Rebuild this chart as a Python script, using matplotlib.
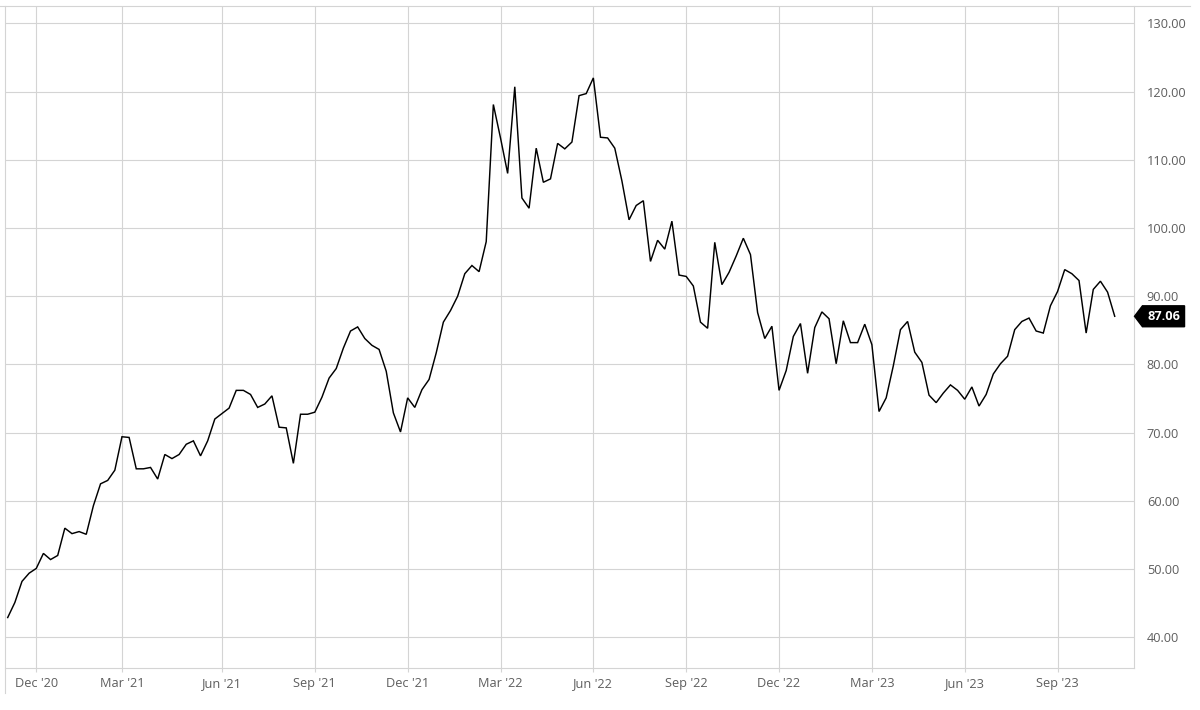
import pandas as pd
import matplotlib
matplotlib.use("Agg")
import matplotlib.pyplot as plt
from matplotlib.lines import Line2D
from matplotlib.path import Path

# weekly closes, one per Monday starting 9 Nov 2020
start_date = "2020-11-09"
price = [
    42.9, 45.1, 48.2, 49.4, 50.1, 52.3, 51.4, 52.0, 56.0, 55.2,
    55.5, 55.1, 59.3, 62.5, 63.0, 64.5, 69.4, 69.3, 64.7, 64.7,
    64.9, 63.2, 66.8, 66.2, 66.8, 68.3, 68.8, 66.6, 68.8, 72.0,
    72.8, 73.6, 76.2, 76.2, 75.6, 73.7, 74.2, 75.4, 70.8, 70.7,
    65.5, 72.7, 72.7, 73.0, 75.2, 78.0, 79.4, 82.4, 84.9, 85.5,
    83.8, 82.8, 82.2, 79.0, 72.9, 70.1, 75.1, 73.7, 76.3, 77.8,
    81.7, 86.2, 87.9, 90.0, 93.3, 94.5, 93.6, 98.0, 118.1, 113.2,
    108.0, 120.7, 104.4, 102.9, 111.7, 106.7, 107.2, 112.4, 111.6, 112.6,
    119.4, 119.7, 122.0, 113.3, 113.2, 111.7, 106.9, 101.2, 103.3, 104.0,
    95.1, 98.2, 96.9, 101.0, 93.1, 92.9, 91.5, 86.2, 85.3, 97.9,
    91.7, 93.5, 95.9, 98.5, 96.1, 87.6, 83.8, 85.6, 76.2, 79.1,
    84.1, 86.0, 78.7, 85.4, 87.7, 86.7, 80.1, 86.4, 83.2, 83.2,
    85.9, 82.9, 73.1, 75.1, 79.8, 85.1, 86.3, 81.8, 80.3, 75.5,
    74.4, 75.8, 77.0, 76.2, 74.9, 76.7, 73.9, 75.6, 78.6, 80.1,
    81.2, 85.1, 86.3, 86.8, 84.9, 84.6, 88.6, 90.7, 93.9, 93.3,
    92.3, 84.6, 91.0, 92.2, 90.6, 87.06,
]
y_ticks = [40, 50, 60, 70, 80, 90, 100, 110, 120, 130]
tick_months = [3, 6, 9, 12]

dates = pd.date_range(start_date, periods=len(price), freq="W-MON")
idx = list(range(len(price)))

# ticks sit on the first weekly point of each quarter month
tick_pos = [i for i, d in enumerate(dates) if d.month in tick_months and d.day <= 7]
tick_lab = [dates[i].strftime("%b '%y") for i in tick_pos]

plt.rcParams["font.family"] = ["Open Sans", "DejaVu Sans"]
grid_c = "#d4d4d4"
text_c = "#5e5e5e"

W, H = 1200, 710
fig = plt.figure(figsize=(12, 7.1), dpi=100)
ax = fig.add_axes([4.7 / W, 1 - 668.3 / H, (1134 - 4.7) / W, (668.3 - 6) / H])

ax.plot(idx, price, color="black", linewidth=1.05, solid_joinstyle="miter")

ax.set_xlim(-0.42, 157.7)
ax.set_ylim(35.46, 132.54)

ax.set_xticks(tick_pos)
ax.set_xticklabels(tick_lab)
ax.set_yticks(y_ticks)
ax.set_yticklabels([f"{v:.2f}" for v in y_ticks])
ax.yaxis.tick_right()

ax.grid(True, color=grid_c, linewidth=0.8)
ax.set_axisbelow(True)
ax.tick_params(axis="x", length=3, width=0.8, color=grid_c, labelcolor=text_c,
               labelsize=9.2, pad=3)
ax.tick_params(axis="y", length=0, labelcolor=text_c, labelsize=9.2, pad=9.2)

for side in ["top", "left"]:
    ax.spines[side].set_visible(False)
for side in ["right", "bottom"]:
    ax.spines[side].set_color(grid_c)
    ax.spines[side].set_linewidth(0.8)

# outer frame lines of the widget
fig.add_artist(Line2D([0, 1190 / W], [1 - 6 / H, 1 - 6 / H], color=grid_c, linewidth=0.8))
fig.add_artist(Line2D([4.7 / W, 4.7 / W], [1 - 6 / H, 1 - 693 / H], color=grid_c, linewidth=0.8))


def tag_box(x0, y0, width, height, mutation_size):
    # pentagon tag pointing left; callable styles get the bare text box
    pad_h = 0.36 * mutation_size
    pad_v = 0.31 * mutation_size
    x0 -= pad_h
    y0 -= pad_v
    width += 2 * pad_h
    height += 2 * pad_v
    tip = height * 0.38
    verts = [(x0, y0), (x0 + width, y0), (x0 + width, y0 + height),
             (x0, y0 + height), (x0 - tip, y0 + height / 2), (x0, y0)]
    codes = [Path.MOVETO] + [Path.LINETO] * 4 + [Path.CLOSEPOLY]
    return Path(verts, codes)


ax.annotate(f"{price[-1]:.2f}", xy=(1, price[-1]), xycoords=("axes fraction", "data"),
            xytext=(9.4, 0), textcoords="offset points", ha="left", va="center",
            color="white", fontsize=9.2, fontweight="bold",
            bbox=dict(boxstyle=tag_box, fc="black", ec="black"),
            annotation_clip=False)

fig.savefig("out.png", dpi=100, facecolor="white")
